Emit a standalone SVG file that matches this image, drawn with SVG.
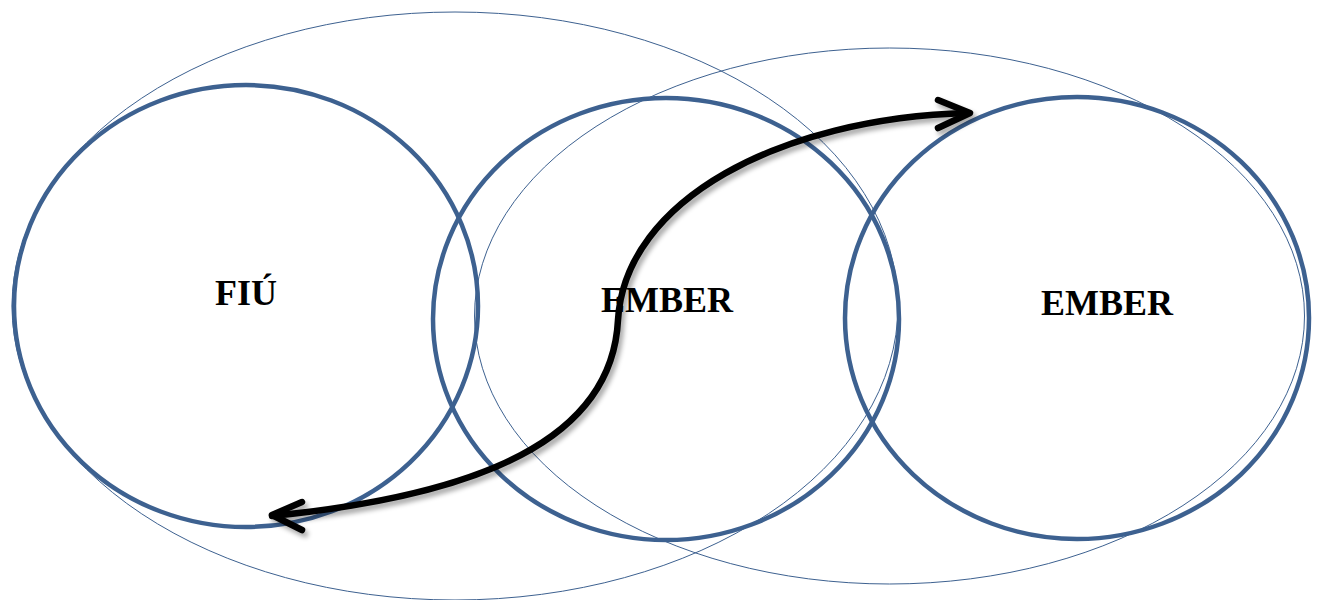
<svg xmlns="http://www.w3.org/2000/svg" width="1317" height="600" viewBox="0 0 1317 600">
<style>
.thin{fill:none;stroke:#3d6190;stroke-width:1}
.thick{fill:none;stroke:#3d6190;stroke-width:4.5}
.lbl{font-family:"Liberation Serif","Times New Roman",serif;font-weight:bold;font-size:36px;fill:#000;text-anchor:middle}
.conn{fill:none;stroke:#000;stroke-width:6.5;stroke-linecap:round;stroke-linejoin:round}
</style>
<defs>
<filter id="sh" x="-10%" y="-10%" width="130%" height="130%">
<feGaussianBlur in="SourceAlpha" stdDeviation="2.5"/>
<feOffset dx="3" dy="4" result="b"/>
<feComponentTransfer><feFuncA type="linear" slope="0.35"/></feComponentTransfer>
<feMerge><feMergeNode/><feMergeNode in="SourceGraphic"/></feMerge>
</filter>
</defs>
<rect width="1317" height="600" fill="#fff"/>
<g id="outer-left"><ellipse class="thin" cx="455" cy="306" rx="443" ry="294"/></g>
<g id="outer-right"><ellipse class="thin" cx="889.5" cy="316" rx="415" ry="268"/></g>
<g id="node-fiu">
<ellipse class="thick" cx="246" cy="306" rx="232" ry="221"/>
<text class="lbl" x="246" y="305">FIÚ</text>
</g>
<g id="node-ember1">
<ellipse class="thick" cx="666" cy="319" rx="233" ry="221"/>
<text class="lbl" x="667" y="312">EMBER</text>
</g>
<g id="node-ember2">
<ellipse class="thick" cx="1077" cy="318" rx="232" ry="221"/>
<text class="lbl" x="1107" y="315">EMBER</text>
</g>
<g id="connectors" filter="url(#sh)">
<path class="conn" d="M272 516 C480 495 612 440 618 320 C625 200 780 118 968 113"/>
<polyline class="conn" points="302,502 272,515 302,530"/>
<polyline class="conn" points="938,100 970,113 938,128"/>
</g>
</svg>
